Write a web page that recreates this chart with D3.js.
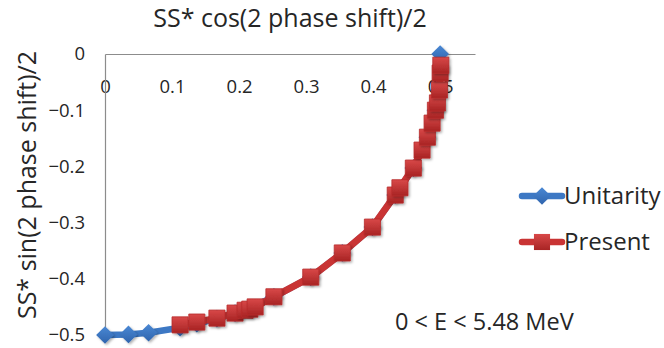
<!DOCTYPE html>
<html>
<head>
<meta charset="utf-8">
<script src="https://cdn.jsdelivr.net/npm/d3@7"></script>
<style>
	body { margin: 0; background: #fff; }
	svg text { font-family: "Open Sans", sans-serif; fill: #262626; }
</style>
</head>
<body>
<svg id="chart" width="664" height="348"></svg>
<script>
// values (Unitarity mostly hidden under Present)
let unitarityX = [0, 0.035, 0.065, 0.112, 0.137, 0.167, 0.194, 0.216, 0.252, 0.307, 0.354, 0.399,
	0.433, 0.460, 0.481, 0.493, 0.499, 0.5];
let unitarityY = [-0.5, -0.499, -0.496, -0.487, -0.480, -0.471, -0.461, -0.452, -0.432, -0.397, -0.354, -0.308,
	-0.251, -0.203, -0.148, -0.100, -0.064, 0];

let presentX = [0.112, 0.137, 0.167, 0.194, 0.209, 0.216, 0.224, 0.252, 0.307, 0.354, 0.399,
	0.433, 0.440, 0.460, 0.473, 0.481, 0.488, 0.493, 0.496, 0.499, 0.500, 0.501];
let presentY = [-0.482, -0.477, -0.470, -0.461, -0.456, -0.454, -0.450, -0.432, -0.397, -0.354, -0.308,
	-0.251, -0.238, -0.203, -0.171, -0.148, -0.123, -0.100, -0.087, -0.064, -0.034, -0.020];

let xTicks = [0, 0.1, 0.2, 0.3, 0.4, 0.5];
let yTicks = [0, -0.1, -0.2, -0.3, -0.4, -0.5];

let xTitle = 'SS* cos(2 phase shift)/2';
let yTitle = 'SS* sin(2 phase shift)/2';
let note = '0 < E < 5.48 MeV';
let seriesNames = ['Unitarity', 'Present'];

let blue = '#3d78c4';
let red = '#c93434';

let svg = d3.select('svg#chart');
let x = d3.scaleLinear([0, 0.552], [105, 475]);
let y = d3.scaleLinear([-0.5, 0], [335, 54]);

// gradients / shadow
let defs = svg.append('defs');
let g1 = defs.append('linearGradient').attr('id', 'redGrad').attr('x1', 0).attr('y1', 0).attr('x2', 0).attr('y2', 1);
g1.append('stop').attr('offset', '0%').attr('stop-color', '#d84848');
g1.append('stop').attr('offset', '100%').attr('stop-color', '#a82424');
let g2 = defs.append('linearGradient').attr('id', 'blueGrad').attr('x1', 0).attr('y1', 0).attr('x2', 0).attr('y2', 1);
g2.append('stop').attr('offset', '0%').attr('stop-color', '#4a88d4');
g2.append('stop').attr('offset', '100%').attr('stop-color', '#2f64ad');
let sh = defs.append('filter').attr('id', 'shadow').attr('x', '-50%').attr('y', '-50%').attr('width', '200%').attr('height', '200%');
sh.append('feDropShadow').attr('dx', 1.5).attr('dy', 1.5).attr('stdDeviation', 1).attr('flood-color', '#000').attr('flood-opacity', 0.3);

// axes
let xAxis = svg.append('g').attr('transform', 'translate(0,' + y(0) + ')')
	.call(d3.axisBottom(x).tickValues(xTicks).tickSize(0).tickFormat(d3.format('')));
let yAxis = svg.append('g').attr('transform', 'translate(' + x(0) + ',0)')
	.call(d3.axisLeft(y).tickValues(yTicks).tickSize(0).tickPadding(20).tickFormat(d => d == 0 ? '0' : d3.format('.1f')(d)));
[xAxis, yAxis].forEach(a => {
	a.select('.domain').attr('stroke', '#8c8c8c').attr('stroke-width', 1.2);
	a.selectAll('text').attr('font-size', 18.5).attr('fill', '#262626').style('font-family', '"Open Sans", sans-serif');
});
xAxis.selectAll('text').attr('dy', '0.35em').attr('y', 33);

let line = d3.line().x(d => x(d[0])).y(d => y(d[1]));
let uPts = unitarityX.map((v, i) => [v, unitarityY[i]]);
let pPts = presentX.map((v, i) => [v, presentY[i]]);

let diamond = d3.symbol().type(d3.symbolDiamond2).size(200);
let square = d3.symbol().type(d3.symbolSquare2).size(330);

// Unitarity
svg.append('path').datum(uPts).attr('d', line).attr('fill', 'none')
	.attr('stroke', blue).attr('stroke-width', 6.5).attr('stroke-linejoin', 'round').attr('stroke-linecap', 'round');
svg.append('g').selectAll('path').data(uPts).join('path')
	.attr('d', diamond).attr('transform', d => 'translate(' + x(d[0]) + ',' + y(d[1]) + ')')
	.attr('fill', 'url(#blueGrad)').attr('filter', 'url(#shadow)');

// Present
svg.append('path').datum(pPts).attr('d', line).attr('fill', 'none')
	.attr('stroke', red).attr('stroke-width', 7).attr('stroke-linejoin', 'round').attr('stroke-linecap', 'round');
svg.append('g').selectAll('path').data(pPts).join('path')
	.attr('d', square).attr('transform', d => 'translate(' + x(d[0]) + ',' + y(d[1]) + ')')
	.attr('fill', 'url(#redGrad)').attr('stroke', '#b82c2c').attr('stroke-width', 0.8).attr('filter', 'url(#shadow)');

// titles
svg.append('text').attr('x', 290).attr('y', 27).attr('text-anchor', 'middle').attr('font-size', 25).text(xTitle);
svg.append('text').attr('transform', 'translate(36,185) rotate(-90)').attr('text-anchor', 'middle').attr('font-size', 25).text(yTitle);
svg.append('text').attr('x', 395).attr('y', 330).attr('font-size', 23.5).text(note);

// legend
let leg = svg.append('g');
[[blue, 'url(#blueGrad)', diamond, 196], [red, 'url(#redGrad)', square, 242]].forEach((l, i) => {
	leg.append('line').attr('x1', 522).attr('x2', 562).attr('y1', l[3]).attr('y2', l[3])
		.attr('stroke', l[0]).attr('stroke-width', 6.5).attr('stroke-linecap', 'round');
	leg.append('path').attr('d', l[2]).attr('transform', 'translate(542,' + l[3] + ')').attr('fill', l[1]);
	leg.append('text').attr('x', 564).attr('y', l[3]).attr('dy', '0.35em').attr('font-size', 24).text(seriesNames[i]);
});
</script>
</body>
</html>
